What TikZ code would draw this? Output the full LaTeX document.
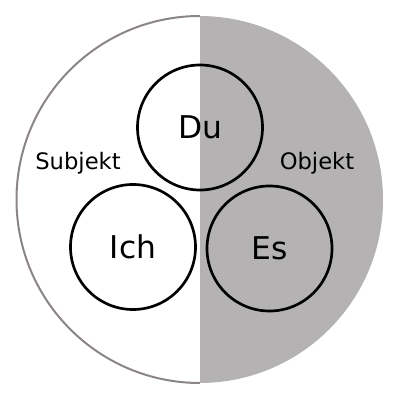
\documentclass[tikz,border=0pt]{standalone}
\usepackage{fontspec}
\setmainfont{DejaVu Sans}
\definecolor{halfgray}{RGB}{180,178,178}
\definecolor{rimgray}{RGB}{140,133,133}
\begin{document}
\begin{tikzpicture}[x=0.75pt,y=-0.75pt,
  pron/.style={circle,draw=black,line width=2pt,minimum size=93.75pt,inner sep=0pt,
    font=\fontsize{23.5pt}{28pt}\selectfont},
  side/.style={font=\fontsize{17pt}{20pt}\selectfont,inner sep=0pt}]
\useasboundingbox (0,0) rectangle (400,402);
\coordinate (c) at (199.5,199.5);
\begin{scope}
  \clip (200,0) rectangle (400,402);
  \fill[halfgray] (c) circle (183.5);
\end{scope}
\draw[rimgray,line width=1.5pt] (200,16) arc[start angle=270,end angle=90,radius=183.5];
\node[pron] (du) at (200,127.5) {Du};
\node[pron] (ich) at (133,247) {Ich};
\node[pron] (es) at (269.5,248.5) {Es};
\node[side] (subj) at (78,163) {Subjekt};
\node[side] (obj) at (317,163) {Objekt};
\end{tikzpicture}
\end{document}
